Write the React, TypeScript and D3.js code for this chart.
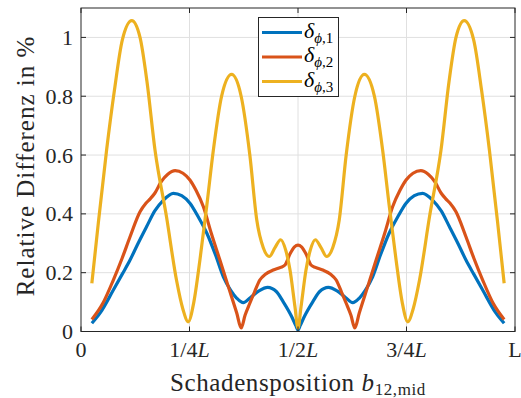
import React from "react";
import * as d3 from "d3";

// δφ,1 — relative difference along the damage position
const pos1 = [0.025, 0.045, 0.0745, 0.095, 0.113, 0.13, 0.151, 0.17, 0.19, 0.213, 0.232, 0.251, 0.27, 0.29, 0.31, 0.328, 0.345, 0.359, 0.374, 0.39, 0.41, 0.43, 0.45, 0.466, 0.485, 0.495, 0.5,
  0.505, 0.515, 0.534, 0.55, 0.57, 0.59, 0.61, 0.626, 0.641, 0.655, 0.672, 0.69, 0.71, 0.73, 0.749, 0.768, 0.787, 0.81, 0.83, 0.849, 0.87, 0.887, 0.905, 0.9255, 0.955, 0.975];
const val1 = [0.028, 0.065, 0.141, 0.195, 0.243, 0.295, 0.356, 0.41, 0.447, 0.47, 0.462, 0.436, 0.39, 0.334, 0.26, 0.186, 0.14, 0.113, 0.098, 0.115, 0.138, 0.15, 0.136, 0.101, 0.052, 0.02, 0.005,
  0.02, 0.052, 0.101, 0.136, 0.15, 0.138, 0.115, 0.098, 0.113, 0.14, 0.186, 0.26, 0.334, 0.39, 0.436, 0.462, 0.47, 0.447, 0.41, 0.356, 0.295, 0.243, 0.195, 0.141, 0.065, 0.028];

// δφ,2
const pos2 = [0.025, 0.05, 0.0745, 0.095, 0.113, 0.136, 0.15, 0.16, 0.17, 0.185, 0.2, 0.217, 0.235, 0.251, 0.265, 0.282, 0.3, 0.32, 0.34, 0.359, 0.369, 0.378, 0.389, 0.4, 0.412, 0.425, 0.443, 0.46, 0.47, 0.482, 0.492, 0.5,
  0.508, 0.518, 0.53, 0.54, 0.557, 0.575, 0.588, 0.6, 0.611, 0.622, 0.631, 0.641, 0.66, 0.68, 0.7, 0.718, 0.735, 0.749, 0.765, 0.783, 0.8, 0.815, 0.83, 0.84, 0.85, 0.864, 0.887, 0.905, 0.9255, 0.95, 0.975];
const val2 = [0.041, 0.095, 0.175, 0.25, 0.322, 0.407, 0.437, 0.452, 0.47, 0.51, 0.535, 0.547, 0.538, 0.515, 0.48, 0.424, 0.335, 0.243, 0.15, 0.062, 0.012, 0.055, 0.096, 0.135, 0.175, 0.195, 0.209, 0.218, 0.226, 0.265, 0.288, 0.294,
  0.288, 0.265, 0.226, 0.218, 0.209, 0.195, 0.175, 0.135, 0.096, 0.055, 0.012, 0.062, 0.15, 0.243, 0.335, 0.424, 0.48, 0.515, 0.538, 0.547, 0.535, 0.51, 0.47, 0.452, 0.437, 0.407, 0.322, 0.25, 0.175, 0.095, 0.041];

// δφ,3
const pos3 = [0.025, 0.04, 0.059, 0.077, 0.095, 0.117, 0.136, 0.152, 0.1705, 0.197, 0.22, 0.235, 0.247, 0.26, 0.274, 0.29, 0.305, 0.324, 0.347, 0.369, 0.389, 0.405, 0.42, 0.434, 0.447, 0.46, 0.472, 0.4816, 0.493, 0.5,
  0.507, 0.5184, 0.528, 0.54, 0.553, 0.566, 0.58, 0.595, 0.611, 0.631, 0.653, 0.676, 0.695, 0.71, 0.726, 0.74, 0.753, 0.765, 0.78, 0.803, 0.8295, 0.848, 0.864, 0.883, 0.905, 0.923, 0.941, 0.96, 0.975];
const val3 = [0.164, 0.37, 0.617, 0.82, 0.99, 1.057, 1.0, 0.85, 0.617, 0.39, 0.175, 0.075, 0.033, 0.1, 0.243, 0.43, 0.617, 0.8, 0.874, 0.8, 0.6, 0.379, 0.285, 0.255, 0.285, 0.312, 0.275, 0.209, 0.084, 0.011,
  0.084, 0.209, 0.275, 0.312, 0.285, 0.255, 0.285, 0.379, 0.6, 0.8, 0.874, 0.8, 0.617, 0.43, 0.243, 0.1, 0.033, 0.075, 0.175, 0.39, 0.617, 0.85, 1.0, 1.057, 0.99, 0.82, 0.617, 0.37, 0.164];

const seriesSubs = ["1", "2", "3"];
const seriesColors = ["#0072BD", "#D95319", "#EDB120"];

const xTicks = [0, 0.25, 0.5, 0.75, 1];
const xTickNums = ["0", "1/4", "1/2", "3/4", ""];
const xTickUnits = ["", "L", "L", "L", ""];
const yTicks = [0, 0.2, 0.4, 0.6, 0.8, 1];
const yTickLabels = ["0", "0.2", "0.4", "0.6", "0.8", "1"];

const W = 521, H = 398;
const left = 81, right = 515, top = 8, bottom = 331.5;
const FONT = "'Liberation Serif', 'DejaVu Serif', serif";
const AX = "#262626";

export default function App() {
  const x = d3.scaleLinear().domain([0, 1]).range([left, right]);
  const y = d3.scaleLinear().domain([0, 1.1]).range([bottom, top]);
  const line = d3.line<[number, number]>()
    .x(d => x(d[0]))
    .y(d => y(d[1]))
    .curve(d3.curveMonotoneX);

  const series = [
    pos1.map((p, i) => [p, val1[i]] as [number, number]),
    pos2.map((p, i) => [p, val2[i]] as [number, number]),
    pos3.map((p, i) => [p, val3[i]] as [number, number]),
  ];

  const tl = 5;
  return (
    <svg width={W} height={H} style={{ position: "absolute", left: 0, top: 0, background: "#fff", fontFamily: FONT }}>
      <rect x={0} y={0} width={W} height={H} fill="#fff" />
      {/* grid */}
      {xTicks.slice(1, -1).map(t => (
        <line key={"gx" + t} x1={x(t)} x2={x(t)} y1={top} y2={bottom} stroke="#e0e0e0" strokeWidth={1} />
      ))}
      {yTicks.slice(1).map(t => (
        <line key={"gy" + t} x1={left} x2={right} y1={y(t)} y2={y(t)} stroke="#e0e0e0" strokeWidth={1} />
      ))}
      {/* data */}
      {series.map((s, i) => (
        <path key={"s" + i} d={line(s) || ""} fill="none" stroke={seriesColors[i]} strokeWidth={3.2} strokeLinejoin="round" strokeLinecap="butt" />
      ))}
      {/* axes box and ticks */}
      <rect x={left} y={top} width={right - left} height={bottom - top} fill="none" stroke={AX} strokeWidth={1} />
      {xTicks.map(t => (
        <g key={"tx" + t}>
          <line x1={x(t)} x2={x(t)} y1={bottom} y2={bottom - tl} stroke={AX} />
          <line x1={x(t)} x2={x(t)} y1={top} y2={top + tl} stroke={AX} />
        </g>
      ))}
      {yTicks.map(t => (
        <g key={"ty" + t}>
          <line x1={left} x2={left + tl} y1={y(t)} y2={y(t)} stroke={AX} />
          <line x1={right} x2={right - tl} y1={y(t)} y2={y(t)} stroke={AX} />
        </g>
      ))}
      {/* tick labels */}
      {xTicks.map((t, i) => (
        <text key={"lx" + t} x={x(t)} y={357} textAnchor="middle" fontSize={22} fill={AX}>
          {xTickNums[i]}
          {xTickUnits[i] && <tspan fontStyle="italic">{xTickUnits[i]}</tspan>}
          {i === xTicks.length - 1 && "L"}
        </text>
      ))}
      {yTicks.map((t, i) => (
        <text key={"ly" + t} x={73} y={y(t) + 7.5} textAnchor="end" fontSize={22} fill={AX}>
          {yTickLabels[i]}
        </text>
      ))}
      {/* axis labels */}
      <text x={298} y={391} textAnchor="middle" fontSize={25} letterSpacing={0.6} fill={AX}>
        Schadensposition <tspan fontStyle="italic">b</tspan>
        <tspan fontSize={17} dy={4}>12,mid</tspan>
      </text>
      <text transform="translate(34,166) rotate(-90)" textAnchor="middle" fontSize={25} letterSpacing={1} fill={AX}>
        Relative Differenz in %
      </text>
      {/* legend */}
      <rect x={258.5} y={17.5} width={80} height={79} fill="#fff" stroke={AX} strokeWidth={1} />
      {seriesSubs.map((sub, i) => {
        const cy = 32.5 + i * 24.5;
        return (
          <g key={"lg" + i}>
            <line x1={262} x2={302} y1={cy} y2={cy} stroke={seriesColors[i]} strokeWidth={3.2} />
            <text x={304} y={cy + 5} fontSize={22} fill="#000">
              <tspan fontStyle="italic">δ</tspan>
              <tspan fontSize={15} dy={5} fontStyle="italic">ϕ</tspan>
              <tspan fontSize={15}>,{sub}</tspan>
            </text>
          </g>
        );
      })}
    </svg>
  );
}
